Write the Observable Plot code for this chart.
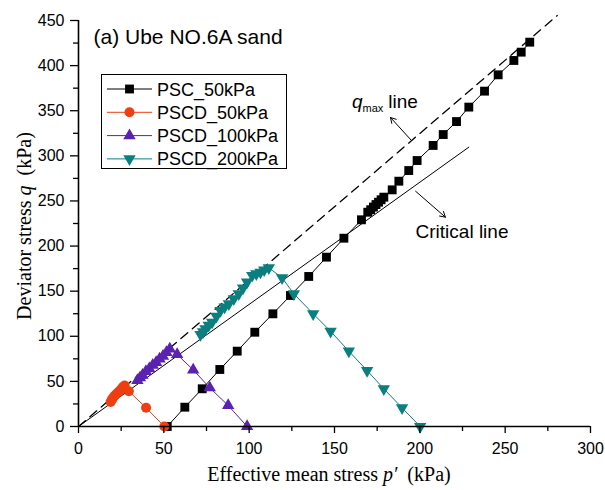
<!DOCTYPE html>
<html>
<head>
<meta charset="utf-8">
<script src="https://cdn.jsdelivr.net/npm/d3@7"></script>
<script src="https://cdn.jsdelivr.net/npm/@observablehq/plot@0.6"></script>
<style>
  body { margin: 0; background: #fff; }
  #chart { width: 605px; height: 490px; }
</style>
</head>
<body>
<div id="chart"></div>
<script>
// Stress paths in p'–q space (kPa)
const pscP = [52, 62.3, 72.5, 82.8, 93, 103.3, 113.9, 124.2, 134.9, 145.3, 155.5, 165.8, 169.5, 171.2, 172.8, 174.3, 175.8, 177.3, 178.9, 183.8, 187.7, 193.5, 198.4, 207.8, 213.7, 221.5, 228.7, 237.9, 245.9, 255.1, 259.4, 264.4];
const pscQ = [0, 21.4, 41.8, 63.2, 83.5, 104.5, 124.9, 145.2, 166.3, 187.7, 208.7, 229.1, 237.5, 240.3, 243.2, 246, 248.6, 251.3, 254.2, 262.3, 271.9, 283.7, 294.8, 311.5, 323.6, 338, 354, 371.7, 389.8, 405.7, 414.9, 426];

const pscd50P = [50.3, 39.6, 29.5, 27, 26.2, 25.3, 24.3, 23.2, 22.2, 21.2, 20.3, 19.5, 18.8];
const pscd50Q = [0, 20.7, 39.1, 45.4, 44, 42, 40, 38, 36, 34, 32, 29.5, 27.2];

const pscd100P = [98.8, 87.7, 76.9, 67.2, 57.8, 53.5, 51.5, 49.5, 47.5, 45.5, 43.5, 41.5, 39.5, 37.5, 36, 34.5];
const pscd100Q = [0, 23.3, 42.9, 62.8, 79.8, 86.1, 82, 78, 75, 71, 68, 64, 61, 57, 54, 51];

const pscd200P = [200.2, 189.6, 178.9, 169.1, 158.4, 147.7, 137.5, 126.2, 119.3, 111.5, 108.8, 106.6, 104.2, 101.8, 98.8, 96.4, 93.9, 91, 88.1, 85.6, 83.2, 80.8, 78.3, 76.3, 74.4, 73, 71.5];
const pscd200Q = [0, 20.7, 41.8, 62, 83.5, 105.6, 124.9, 147.1, 164.8, 175.9, 173.5, 171, 169.2, 167.4, 160, 153.5, 147.1, 141.5, 136, 132.3, 128.6, 122, 115.6, 112, 108.3, 105, 102];

// Reference lines through the origin
const criticalP = [0, 228.7];
const criticalQ = [0, 309.6];
const qmaxP = [0, 280.5];
const qmaxQ = [0, 455.5];

// Series styling
const seriesNames = ["PSC_50kPa", "PSCD_50kPa", "PSCD_100kPa", "PSCD_200kPa"];
const seriesColors = ["#000000", "#EE3E12", "#5B22B2", "#0B7F7F"];
const seriesSymbols = ["square", "circle", "triangle", "triangle"];
const seriesRotate = [0, 0, 0, 180];

// Axis ticks
const xMajor = [0, 50, 100, 150, 200, 250, 300];
const xMinor = [25, 75, 125, 175, 225, 275];
const yMajor = [0, 50, 100, 150, 200, 250, 300, 350, 400, 450];
const yMinor = [25, 75, 125, 175, 225, 275, 325, 375, 425];

// Annotations
const titleText = [{p: 8.8, q: 424, label: "(a) Ube NO.6A sand"}];
const criticalLabel = [{p: 197.5, q: 208.4, label: "Critical line"}];
const qmaxLabel = {p: 160.5, q: 352.5};
const arrows = [
  {p1: 195.1, q1: 317, p2: 182.8, q2: 342.5},
  {p1: 197.5, q1: 260.8, p2: 215, q2: 232}
];

const rows = (p, q) => p.map((v, i) => ({p: v, q: q[i]}));
const seriesData = [rows(pscP, pscQ), rows(pscd50P, pscd50Q), rows(pscd100P, pscd100Q), rows(pscd200P, pscd200Q)];
const symbolR = {square: 5, circle: 5, triangle: 4.6};

const sans = "'Liberation Sans', Arial, sans-serif";
const serif = "'Liberation Serif', 'Times New Roman', serif";

const marks = [
  Plot.line(rows(qmaxP, qmaxQ), {x: "p", y: "q", stroke: "#000", strokeWidth: 1.3, strokeDasharray: "9,6"}),
  Plot.line(rows(criticalP, criticalQ), {x: "p", y: "q", stroke: "#000", strokeWidth: 1})
];
seriesData.forEach((d, i) => {
  marks.push(Plot.line(d, {x: "p", y: "q", stroke: seriesColors[i], strokeWidth: 1}));
});
seriesData.forEach((d, i) => {
  marks.push(Plot.dot(d, {
    x: "p", y: "q", symbol: seriesSymbols[i], r: symbolR[seriesSymbols[i]],
    fill: seriesColors[i], stroke: "none", rotate: seriesRotate[i]
  }));
});
marks.push(
  Plot.arrow(arrows, {x1: "p1", y1: "q1", x2: "p2", y2: "q2", stroke: "#000", strokeWidth: 1, headLength: 9}),
  Plot.text(titleText, {x: "p", y: "q", text: "label", textAnchor: "start", lineAnchor: "bottom", fontSize: 21, fontFamily: sans, fill: "#000"}),
  Plot.text(criticalLabel, {x: "p", y: "q", text: "label", textAnchor: "start", lineAnchor: "bottom", fontSize: 19, fontFamily: sans, fill: "#000"}),
  Plot.axisX({ticks: xMajor, tickSize: 7, tickPadding: 9, label: null, strokeWidth: 1.3}),
  Plot.axisX({ticks: xMinor, tickSize: 5, tickFormat: () => "", label: null, strokeWidth: 1.3}),
  Plot.axisY({ticks: yMajor, tickSize: 8, tickPadding: 6, label: null, strokeWidth: 1.3}),
  Plot.axisY({ticks: yMinor, tickSize: 5, tickFormat: () => "", label: null, strokeWidth: 1.3}),
  Plot.ruleX([0], {stroke: "#000", strokeWidth: 1.6}),
  Plot.ruleY([0], {stroke: "#000", strokeWidth: 1.6})
);

const plot = Plot.plot({
  width: 605,
  height: 490,
  marginLeft: 78,
  marginRight: 15,
  marginTop: 20,
  marginBottom: 64,
  x: {domain: [0, 300]},
  y: {domain: [0, 450]},
  style: {fontFamily: sans, fontSize: "16px", color: "#000", background: "#fff", overflow: "visible"},
  marks
});

const svg = d3.select(plot);
const sx = plot.scale("x"), sy = plot.scale("y");

// q_max label with subscript
const qt = svg.append("text")
  .attr("x", sx.apply(qmaxLabel.p)).attr("y", sy.apply(qmaxLabel.q))
  .attr("text-anchor", "start")
  .attr("font-family", sans).attr("font-size", 19).attr("fill", "#000");
qt.append("tspan").attr("font-style", "italic").text("q");
qt.append("tspan").attr("font-size", 11).attr("dy", 4).text("max");
qt.append("tspan").attr("dy", -4).attr("dx", 5).text("line");

// Axis titles
const xt = svg.append("text")
  .attr("x", 329).attr("y", 481).attr("text-anchor", "middle")
  .attr("font-family", serif).attr("font-size", 20).attr("fill", "#000");
xt.append("tspan").text("Effective mean stress ");
xt.append("tspan").attr("font-style", "italic").text("p\u2032");
xt.append("tspan").text("  (kPa)");

const yt = svg.append("text")
  .attr("transform", "translate(31,226) rotate(-90)").attr("text-anchor", "middle")
  .attr("font-family", serif).attr("font-size", 20).attr("fill", "#000");
yt.append("tspan").text("Deviator stress ");
yt.append("tspan").attr("font-style", "italic").text("q");
yt.append("tspan").text("  (kPa)");

// Legend box
const lg = svg.append("g").attr("font-family", sans).attr("font-size", 18).attr("text-anchor", "start");
lg.append("rect").attr("x", 101.5).attr("y", 74.5).attr("width", 185).attr("height", 94)
  .attr("fill", "#fff").attr("stroke", "#000").attr("stroke-width", 1);
const symMap = {square: d3.symbolSquare, circle: d3.symbolCircle, triangle: d3.symbolTriangle};
seriesNames.forEach((name, i) => {
  const cy = 89 + i * 23.3;
  lg.append("line").attr("x1", 107).attr("x2", 152).attr("y1", cy).attr("y2", cy)
    .attr("stroke", seriesColors[i]).attr("stroke-width", 1);
  const r = symbolR[seriesSymbols[i]];
  lg.append("path")
    .attr("d", d3.symbol(symMap[seriesSymbols[i]], Math.PI * r * r)())
    .attr("transform", `translate(129.5,${cy}) rotate(${seriesRotate[i]})`)
    .attr("fill", seriesColors[i]);
  lg.append("text").attr("x", 157).attr("y", cy + 6.5).attr("fill", "#000").text(name);
});

document.getElementById("chart").appendChild(plot);
</script>
</body>
</html>
